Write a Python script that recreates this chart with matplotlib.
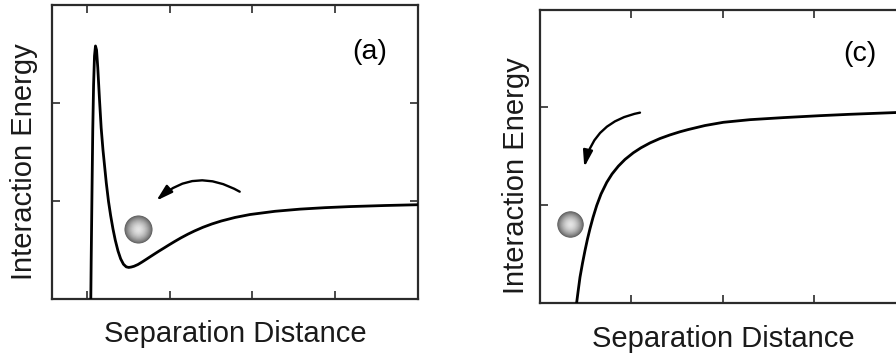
import numpy as np
import matplotlib
matplotlib.use("Agg")
import matplotlib.pyplot as plt
from matplotlib.patches import FancyArrowPatch, ArrowStyle

plt.rcParams["font.family"] = ["Liberation Sans", "DejaVu Sans"]

# ---- panel (a): barrier + secondary minimum ----
dist_a = [1.039, 1.045, 1.055, 1.064, 1.074, 1.085, 1.097, 1.110, 1.125, 1.146,
          1.166, 1.188, 1.228, 1.255, 1.281, 1.309, 1.337, 1.370, 1.402, 1.436,
          1.470, 1.500, 1.530, 1.564, 1.612, 1.661, 1.709, 1.758, 1.815, 1.867,
          1.927, 1.988, 2.057, 2.133, 2.218, 2.299, 2.400, 2.509, 2.622, 2.788,
          2.970, 3.273, 3.576, 3.879, 4.182, 4.606, 5.006]
energy_a = [-0.110, 0.398, 1.112, 1.724, 2.184, 2.480, 2.582, 2.541, 2.357, 2.031,
            1.745, 1.520, 1.184, 0.995, 0.850, 0.715, 0.600, 0.490, 0.410, 0.355,
            0.328, 0.322, 0.326, 0.334, 0.352, 0.377, 0.403, 0.430, 0.461, 0.489,
            0.520, 0.552, 0.587, 0.624, 0.662, 0.695, 0.732, 0.766, 0.796, 0.832,
            0.862, 0.895, 0.917, 0.932, 0.943, 0.954, 0.962]
ball_a = (1.612, 0.714)
arrow_a_start = (2.845, 1.095)
arrow_a_end = (1.834, 1.003)

# ---- panel (c): purely attractive ----
dist_c = [0.394, 0.402, 0.416, 0.438, 0.466, 0.493, 0.520, 0.548, 0.581, 0.621,
          0.668, 0.731, 0.789, 0.858, 0.931, 1.022, 1.106, 1.205, 1.314, 1.424,
          1.533, 1.624, 1.807, 2.008, 2.300, 2.665, 3.067, 3.395, 3.899, 4.491]
energy_c = [-0.060, 0.003, 0.105, 0.259, 0.405, 0.533, 0.650, 0.758, 0.872, 0.993,
            1.110, 1.230, 1.316, 1.396, 1.465, 1.533, 1.584, 1.634, 1.679, 1.716,
            1.748, 1.771, 1.812, 1.845, 1.872, 1.893, 1.913, 1.927, 1.945, 1.960]
ball_c = (0.334, 0.804)
arrow_c_start = (1.095, 1.944)
arrow_c_end = (0.485, 1.386)

W, H = 896, 358
fig = plt.figure(figsize=(W / 100, H / 100), dpi=100)
fig.patch.set_facecolor("white")

ax_a = fig.add_axes([52 / W, 59 / H, 366 / W, 294 / H])
ax_c = fig.add_axes([540 / W, 55.5 / H, 410 / W, 293 / H])

spine_col = "#2b2b2b"


def style_axes(ax, xlim, xticks):
    ax.set_xlim(*xlim)
    ax.set_ylim(0, 3)
    ax.set_xticks(xticks)
    ax.set_yticks([1, 2])
    ax.tick_params(direction="in", top=True, right=True, labelbottom=False,
                   labelleft=False, length=6, width=1.2, color=spine_col)
    for sp in ax.spines.values():
        sp.set_linewidth(1.6)
        sp.set_color(spine_col)


def draw_ball(ax, center, diam_pt):
    # stacked discs give a shaded sphere look
    fr = np.linspace(1.0, 0.08, 30)
    for i, f in enumerate(fr):
        g = 0.90 - 0.52 * f ** 1.8
        ax.scatter([center[0]], [center[1]], s=(diam_pt * f) ** 2,
                   color=(g, g, g), linewidths=0, zorder=4 + i * 0.01)


def draw_arrow(ax, start, end, rad):
    style = ArrowStyle("-|>", head_length=0.75, head_width=0.22)
    arr = FancyArrowPatch(start, end, arrowstyle=style, mutation_scale=13,
                          connectionstyle=f"arc3,rad={rad}", color="black",
                          linewidth=1.7, shrinkA=0, shrinkB=0, zorder=5)
    ax.add_patch(arr)


style_axes(ax_a, (0.57, 5.006), [1, 2, 3, 4])
ax_a.plot(dist_a, energy_a, color="black", linewidth=2.0,
          solid_joinstyle="round", zorder=3)
draw_ball(ax_a, ball_a, 20.2)
draw_arrow(ax_a, arrow_a_start, arrow_a_end, 0.36)
ax_a.text(4.424, 2.52, "(a)", fontsize=20.5, ha="center", va="center")

style_axes(ax_c, (0, 4.49), [1, 2, 3, 4])
ax_c.plot(dist_c, energy_c, color="black", linewidth=2.0,
          solid_joinstyle="round", zorder=3)
draw_ball(ax_c, ball_c, 19.0)
draw_arrow(ax_c, arrow_c_start, arrow_c_end, 0.33)
ax_c.text(3.505, 2.548, "(c)", fontsize=20.5, ha="center", va="center")

lab_fs = 21
fig.text(235.5 / W, 1 - 341.7 / H, "Separation Distance", fontsize=lab_fs,
         ha="center", va="baseline", color="#1a1a1a")
fig.text(24 / W, 1 - 162 / H, "Interaction Energy", fontsize=lab_fs,
         rotation=90, ha="center", va="center", color="#1a1a1a")
fig.text(723.5 / W, 1 - 346.7 / H, "Separation Distance", fontsize=lab_fs,
         ha="center", va="baseline", color="#1a1a1a")
fig.text(516 / W, 1 - 176 / H, "Interaction Energy", fontsize=lab_fs,
         rotation=90, ha="center", va="center", color="#1a1a1a")

fig.savefig("out.png", dpi=100, facecolor="white")
